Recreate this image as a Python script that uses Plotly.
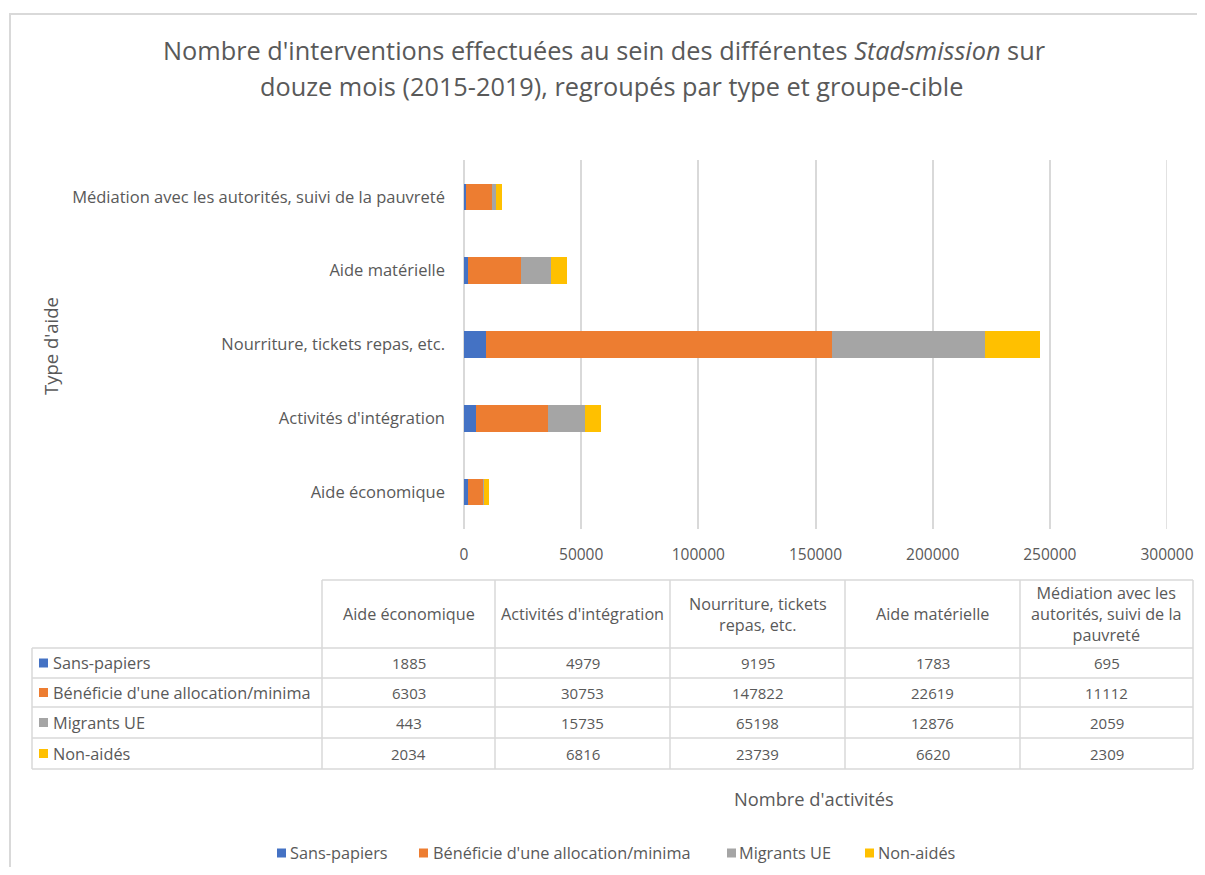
import plotly.graph_objects as go

categories = ["Aide économique", "Activités d'intégration", "Nourriture, tickets repas, etc.",
              "Aide matérielle", "Médiation avec les autorités, suivi de la pauvreté"]
table_headers = ["Aide économique", "Activités d'intégration", "Nourriture, tickets<br>repas, etc.",
                 "Aide matérielle", "Médiation avec les<br>autorités, suivi de la<br>pauvreté"]
series_names = ["Sans-papiers", "Bénéficie d'une allocation/minima", "Migrants UE", "Non-aidés"]
sans_papiers = [1885, 4979, 9195, 1783, 695]
beneficie = [6303, 30753, 147822, 22619, 11112]
migrants_ue = [443, 15735, 65198, 12876, 2059]
non_aides = [2034, 6816, 23739, 6620, 2309]
series_values = [sans_papiers, beneficie, migrants_ue, non_aides]
colors = ["#4472C4", "#ED7D31", "#A5A5A5", "#FFC000"]
x_ticks = [0, 50000, 100000, 150000, 200000, 250000, 300000]

# page has an 8px body margin: figure is shrunk so the page does not overflow
OFF = 8
W, H = 1205 - 2 * OFF, 875 - 2 * OFF
PL, PR, PT, PB = 464, 1167, 160, 529   # plot area in screenshot pixels
FONT = "Open Sans"
TXT = "#595959"
LINE = "#D9D9D9"
LBL = 16.4   # text labels
NUM = 15     # numbers


def px(x):
    return (x - PL) / (PR - PL)


def py(y):
    return (PB - y) / (PB - PT)


fig = go.Figure()
for name, vals, col in zip(series_names, series_values, colors):
    fig.add_trace(go.Bar(y=categories, x=vals, name=name, orientation="h",
                         marker=dict(color=col, line=dict(width=0)), width=0.36,
                         showlegend=False))

shapes = []
annotations = []


def text(x, y, s, size=LBL, xanchor="center", angle=0, align="center"):
    annotations.append(dict(xref="paper", yref="paper", x=px(x), y=py(y), text=s, showarrow=False,
                            xanchor=xanchor, yanchor="middle", textangle=angle, align=align,
                            font=dict(family=FONT, size=size, color=TXT)))


# chart border
shapes.append(dict(type="rect", xref="paper", yref="paper", x0=px(10), x1=px(1240), y0=py(14), y1=py(920),
                   line=dict(color="#D9D9D9", width=2), fillcolor="rgba(0,0,0,0)", layer="below"))
# last gridline at the right edge of the plot area
shapes.append(dict(type="line", xref="x", yref="paper", x0=x_ticks[-1], x1=x_ticks[-1], y0=0, y1=1,
                   line=dict(color=LINE, width=1.5), layer="below"))

# title
text(604, 50, "Nombre d'interventions effectuées au sein des différentes <i>Stadsmission</i> sur", size=25.3)
text(611, 86, "douze mois (2015-2019), regroupés par type et groupe-cible", size=25.3)

# axis titles
text(50, 346, "Type d'aide", size=18.5, angle=-90)
text(814, 798, "Nombre d'activités", size=18.3)

# data table
col_edges = [322, 495, 670, 845, 1020, 1193]
row_edges = [648, 678, 707, 738, 769]
head_top = 580
left = 32
lw = dict(color=LINE, width=1.5)
shapes.append(dict(type="line", xref="paper", yref="paper", x0=px(col_edges[0]), x1=px(col_edges[-1]),
                   y0=py(head_top), y1=py(head_top), line=lw))
for r in row_edges:
    shapes.append(dict(type="line", xref="paper", yref="paper", x0=px(left), x1=px(col_edges[-1]),
                       y0=py(r), y1=py(r), line=lw))
shapes.append(dict(type="line", xref="paper", yref="paper", x0=px(left), x1=px(left),
                   y0=py(row_edges[0]), y1=py(row_edges[-1]), line=lw))
for c in col_edges:
    shapes.append(dict(type="line", xref="paper", yref="paper", x0=px(c), x1=px(c),
                       y0=py(head_top), y1=py(row_edges[-1]), line=lw))
for i, h in enumerate(table_headers):
    cx = (col_edges[i] + col_edges[i + 1]) / 2
    text(cx, (head_top + row_edges[0]) / 2, h, size=16.2)
for r, (name, vals, col) in enumerate(zip(series_names, series_values, colors)):
    cy = (row_edges[r] + row_edges[r + 1]) / 2
    shapes.append(dict(type="rect", xref="paper", yref="paper", x0=px(39), x1=px(48),
                       y0=py(cy - 4.5), y1=py(cy + 4.5), fillcolor=col, line=dict(width=0)))
    text(51, cy, name, size=16.3, xanchor="left")
    for i, v in enumerate(vals):
        cx = (col_edges[i] + col_edges[i + 1]) / 2
        text(cx, cy, str(v), size=NUM)

# legend (bottom)
leg_y = 853
leg_items = [(277, 288), (419, 431), (727, 737), (865, 876)]
for (mx, tx), name, col in zip(leg_items, series_names, colors):
    shapes.append(dict(type="rect", xref="paper", yref="paper", x0=px(mx), x1=px(mx + 9),
                       y0=py(leg_y - 4.5), y1=py(leg_y + 4.5), fillcolor=col, line=dict(width=0)))
    text(tx, leg_y, name, size=16.3, xanchor="left")

fig.update_layout(
    width=W, height=H,
    margin=dict(l=PL - OFF, r=W - (PR - OFF), t=PT - OFF, b=H - (PB - OFF), pad=0, autoexpand=False),
    barmode="stack",
    paper_bgcolor="white", plot_bgcolor="white",
    font=dict(family=FONT, size=15, color=TXT),
    showlegend=False,
    shapes=shapes, annotations=annotations,
    xaxis=dict(range=[0, 300000], tickvals=x_ticks, ticktext=[str(t) for t in x_ticks],
               showgrid=True, gridcolor=LINE, gridwidth=1.5, zeroline=True, zerolinecolor=LINE,
               zerolinewidth=1.5, showline=False, ticks="", ticklabelstandoff=14, automargin=False,
               tickfont=dict(family=FONT, size=15.5, color=TXT)),
    yaxis=dict(categoryorder="array", categoryarray=categories, showgrid=False, showline=False,
               ticks="", ticklabelstandoff=18, automargin=False,
               tickfont=dict(family=FONT, size=16.5, color=TXT)),
)

fig.write_html("out.html")
